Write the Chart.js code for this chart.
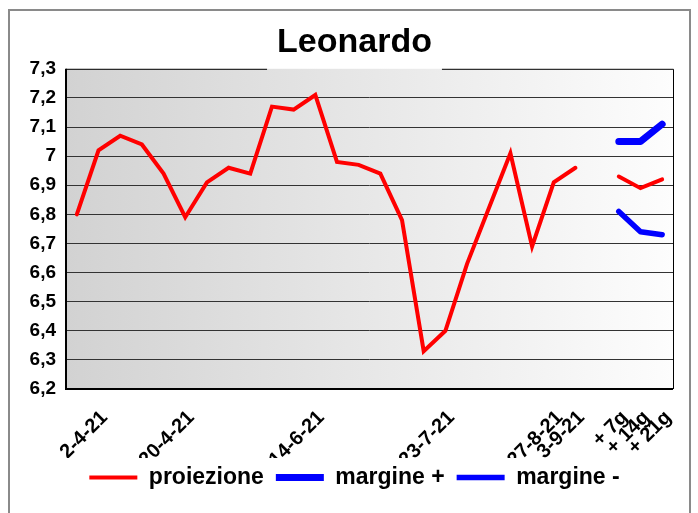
<!DOCTYPE html>
<html>
<head>
<meta charset="utf-8">
<script src="https://cdn.jsdelivr.net/npm/chart.js@4/dist/chart.umd.min.js"></script>
<style>
  html, body { margin: 0; padding: 0; background: #fff; }
</style>
</head>
<body>
<canvas id="chart" width="698" height="513"></canvas>
<script>
// category labels (most dates are not printed on the axis)
const labels = [
    '', '2-4-21', '', '', '', '20-4-21', '', '', '', '', '', '14-6-21', '', '',
    '', '', '', '23-7-21', '', '', '', '', '27-8-21', '3-9-21', '', '+ 7g', '+ 14g', '+ 21g'
];

const proiezione = [
    6.80, 7.02, 7.07, 7.04, 6.94, 6.79, 6.91, 6.96, 6.94, 7.17, 7.16, 7.21, 6.98, 6.97,
    6.94, 6.78, 6.33, 6.40, 6.63, 6.82, 7.01, 6.69, 6.91, 6.96, null, 6.93, 6.89, 6.92
];

const marginePiu = [
    null, null, null, null, null, null, null, null, null, null, null, null, null, null,
    null, null, null, null, null, null, null, null, null, null, null, 7.05, 7.05, 7.11
];

const margineMeno = [
    null, null, null, null, null, null, null, null, null, null, null, null, null, null,
    null, null, null, null, null, null, null, null, null, null, null, 6.81, 6.74, 6.73
];

const yMin = 6.2;
const yMax = 7.3;

const FONT = "'Liberation Sans', Arial, sans-serif";
const TITLE_FONT = { family: FONT, size: 34, weight: 'bold' };

// grey background, plot frame, outer border
const framePlugin = {
    id: 'frame',
    beforeDraw(chart) {
        const { ctx, chartArea: a } = chart;
        ctx.save();
        ctx.fillStyle = '#ffffff';
        ctx.fillRect(0, 0, chart.width, chart.height);
        ctx.strokeStyle = '#8a8a8a';
        ctx.lineWidth = 2;
        ctx.strokeRect(9, 10, 681, 530);
        const g = ctx.createLinearGradient(a.left, 0, a.right, 0);
        g.addColorStop(0, '#d2d2d2');
        g.addColorStop(1, '#fdfdfd');
        ctx.fillStyle = g;
        ctx.fillRect(a.left, a.top, a.right - a.left, a.bottom - a.top);
        ctx.restore();
    },
    beforeDatasetsDraw(chart) {
        const { ctx, chartArea: a } = chart;
        ctx.save();
        ctx.strokeStyle = '#000000';
        // left + bottom heavier
        ctx.lineWidth = 2;
        ctx.beginPath();
        ctx.moveTo(a.left, a.top);
        ctx.lineTo(a.left, a.bottom);
        ctx.lineTo(a.right, a.bottom);
        ctx.stroke();
        ctx.lineWidth = 1;
        ctx.beginPath();
        ctx.moveTo(a.right + 0.5, a.bottom);
        ctx.lineTo(a.right + 0.5, a.top + 0.5);
        ctx.stroke();
        // top border interrupted by the title box
        ctx.font = 'bold ' + TITLE_FONT.size + 'px ' + FONT;
        const tw = ctx.measureText(chart.options.plugins.title.text).width;
        const tb = chart.titleBlock;
        const cx = (tb.left + tb.right) / 2;
        ctx.beginPath();
        ctx.moveTo(a.left, a.top + 0.5);
        ctx.lineTo(cx - tw / 2 - 10, a.top + 0.5);
        ctx.moveTo(cx + tw / 2 + 10, a.top + 0.5);
        ctx.lineTo(a.right + 0.5, a.top + 0.5);
        ctx.stroke();
        ctx.restore();
    }
};

new Chart(document.getElementById('chart'), {
    type: 'line',
    data: {
        labels: labels,
        datasets: [
            {
                label: 'proiezione',
                data: proiezione,
                borderColor: '#ff0000',
                backgroundColor: '#ff0000',
                borderWidth: 4,
                borderCapStyle: 'round',
                pointRadius: 0,
                tension: 0,
                spanGaps: false
            },
            {
                label: 'margine +',
                data: marginePiu,
                borderColor: '#0000ff',
                backgroundColor: '#0000ff',
                borderWidth: 7,
                borderCapStyle: 'round',
                borderJoinStyle: 'round',
                pointRadius: 0,
                tension: 0
            },
            {
                label: 'margine -',
                data: margineMeno,
                borderColor: '#0000ff',
                backgroundColor: '#0000ff',
                borderWidth: 5.5,
                borderCapStyle: 'round',
                borderJoinStyle: 'round',
                pointRadius: 0,
                tension: 0
            }
        ]
    },
    options: {
        responsive: false,
        animation: false,
        devicePixelRatio: 1,
        layout: {
            padding: { top: 10, left: 26, right: 15, bottom: 14 }
        },
        scales: {
            x: {
                offset: true,
                grid: { display: false, drawTicks: false },
                border: { display: false },
                afterFit: (scale) => {
                    scale.height = 65;
                    // long date labels get cut a few px under the axis box, as in the original
                    const area = scale._computeLabelArea;
                    if (area) {
                        scale._computeLabelArea = function () {
                            const r = area.call(this);
                            if (r) r.bottom += 4;
                            return r;
                        };
                    }
                },
                ticks: {
                    autoSkip: false,
                    minRotation: 45,
                    maxRotation: 45,
                    padding: 17,
                    labelOffset: 6,
                    color: '#000',
                    font: { family: FONT, size: 20, weight: 'bold' }
                }
            },
            y: {
                min: yMin,
                max: yMax,
                afterFit: (scale) => { scale.width = 40; },
                grid: {
                    drawTicks: false,
                    color: (c) => c.index === c.chart.scales.y.ticks.length - 1 ? 'rgba(0,0,0,0)' : '#333333',
                    lineWidth: 1
                },
                border: { display: false },
                ticks: {
                    stepSize: 0.1,
                    padding: 10,
                    color: '#000',
                    font: { family: FONT, size: 19, weight: 'bold' },
                    callback: (v) => (Math.round(v * 10) / 10).toString().replace('.', ',')
                }
            },
            // empty strip on the right, keeps the title centred like the original
            yRight: {
                position: 'right',
                grid: { display: false },
                border: { display: false },
                ticks: { display: false },
                afterFit: (scale) => { scale.width = 10; }
            }
        },
        plugins: {
            title: {
                display: true,
                text: 'Leonardo',
                color: '#000',
                font: TITLE_FONT,
                padding: { top: 12, bottom: 6 }
            },
            legend: {
                position: 'bottom',
                labels: {
                    usePointStyle: true,
                    pointStyle: 'line',
                    pointStyleWidth: 48,
                    padding: 12,
                    color: '#000',
                    font: { family: FONT, size: 23, weight: 'bold' }
                }
            },
            tooltip: { enabled: false }
        }
    },
    plugins: [framePlugin]
});
</script>
</body>
</html>
